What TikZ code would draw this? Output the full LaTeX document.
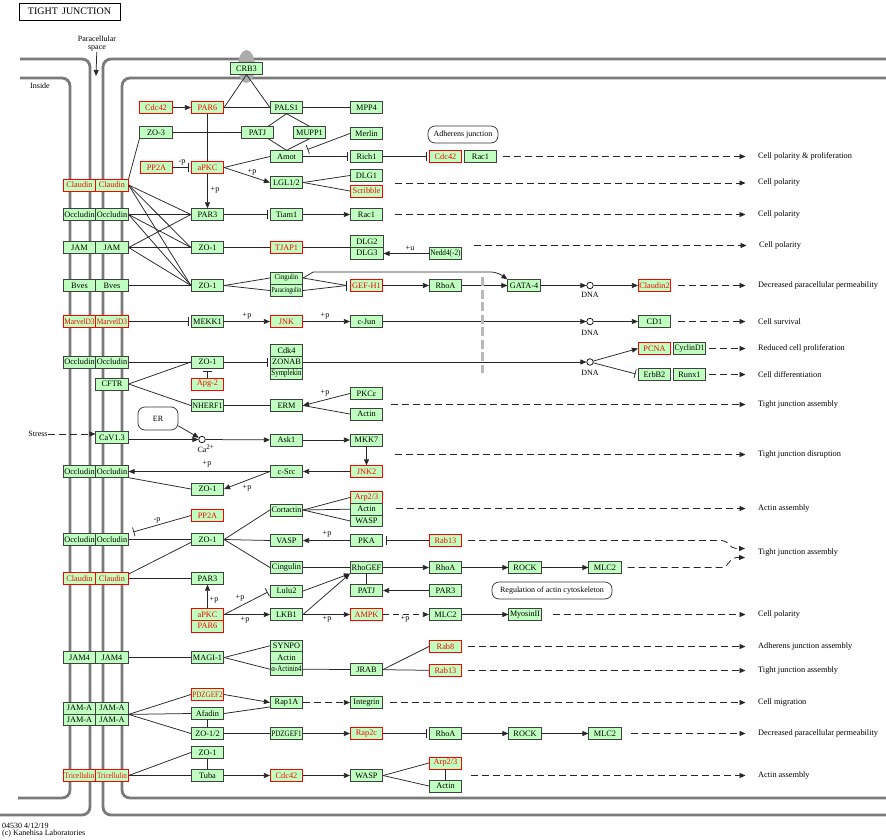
\documentclass[tikz,border=0pt]{standalone}
\usepackage{fontspec}
\setmainfont{Liberation Serif}
\usepackage{graphicx}
\usetikzlibrary{arrows.meta}
\definecolor{kg}{HTML}{BFFFBF}
\definecolor{memgray}{HTML}{7A7A7A}
\newcommand{\sq}[2]{\scalebox{#1}[1]{#2}}
\begin{document}
\begin{tikzpicture}[x=1pt,y=-1pt,
  every node/.style={font=\fontsize{8}{8.5}\selectfont},
  gb/.style={draw=black!75, fill=kg, minimum width=32.5pt, minimum height=11.7pt, inner sep=0pt, line width=0.7pt, font=\fontsize{8.3}{8.5}\selectfont},
  rb/.style={gb, draw=red, text=red},
  ln/.style={draw=black!85, line width=0.75pt},
  ar/.style={ln, -{Triangle[length=6pt,width=5pt]}},
  inh/.style={ln, -{Bar[width=9pt]}, shorten >=2.5pt},
  da/.style={ln, dash pattern=on 7pt off 4pt, -{Triangle[length=6pt,width=5pt]}},
  dao/.style={da, shorten >=12.5pt},
  outc/.style={anchor=west, inner sep=0pt, font=\fontsize{8.3}{9}\selectfont},
  lab/.style={inner sep=0pt},
  memb/.style={draw=memgray, line width=2.8pt, rounded corners=8pt},
  dna/.style={circle, draw=black, fill=white, minimum size=6.5pt, inner sep=0pt, line width=0.7pt},
  rbox/.style={draw=black!80, rounded corners=7pt, minimum height=17pt, inner sep=2pt, line width=0.7pt}
]
\useasboundingbox (0,0) rectangle (886,840);
\fill[white] (0,0) rectangle (886,840);

% membranes
\draw[memb] (20,59) -- (90,59) -- (90,815) -- (0,815);
\draw[memb] (20,78) -- (70,78) -- (70,798) -- (18,798);
\draw[memb] (886,59) -- (103,59) -- (103,815) -- (886,815);
\draw[memb] (886,78) -- (122,78) -- (122,798) -- (886,798);
\fill[gray!65] (246.5,66.5) ellipse [x radius=8.5pt, y radius=16.5pt];

% title and texts
\node[draw=black, line width=0.8pt, minimum width=101pt, minimum height=17pt, inner sep=0pt, font=\fontsize{10}{10}\selectfont] (title) at (69.5,11.5) {TIGHT\, JUNCTION};
\node[lab, align=center, font=\fontsize{8}{8}\selectfont] (para) at (97,44) {Paracellular\\space};
\coordinate (paraend) at (96,76);
\draw[ar] (para) -- (paraend);
\node[lab] (inside) at (40,86) {Inside};
\node[lab, anchor=west] (foot1) at (2,825.5) {04530 4/12/19};
\node[lab, anchor=west] (foot2) at (2,833.5) {(c) Kanehisa Laboratories};

% ---------- nodes ----------
\node[gb] (crb3) at (246.5,68.5) {CRB3};
\node[rb] (cdc42a) at (156,107.5) {Cdc42};
\node[rb] (par6a) at (207.5,107.5) {PAR6};
\node[gb] (pals1) at (286.5,107.5) {PALS1};
\node[gb] (mpp4) at (366.5,107.5) {MPP4};
\node[gb] (zo3) at (156,132.5) {ZO-3};
\node[gb] (patj) at (257.5,132.5) {PATJ};
\node[gb] (mupp1) at (309.5,132.5) {MUPP1};
\node[gb] (merlin) at (366.5,133.5) {Merlin};
\node[rbox, minimum width=70pt] (adh) at (463,134.5) {Adherens junction};
\node[gb] (amot) at (286.5,156.5) {Amot};
\node[gb] (rich1) at (366.5,156.5) {Rich1};
\node[rb] (cdc42b) at (445.5,156.5) {Cdc42};
\node[gb] (rac1a) at (480.5,156.5) {Rac1};
\node[rb] (pp2a) at (156.5,167.5) {PP2A};
\node[rb] (apkc) at (207.5,167.5) {aPKC};
\node[gb] (lgl) at (286.5,182.5) {LGL1/2};
\node[gb] (dlg1) at (366.5,175.5) {DLG1};
\node[rb] (scrib) at (366.5,191) {Scribble};
\node[rb] (cl1) at (79.5,185) {Claudin};
\node[rb] (cl2) at (112,185) {Claudin};
\node[gb] (oc1) at (79.5,214.5) {Occludin};
\node[gb] (oc2) at (112,214.5) {Occludin};
\node[gb] (par3a) at (207.5,214.5) {PAR3};
\node[gb] (tiam1) at (286.5,214.5) {Tiam1};
\node[gb] (rac1b) at (366.5,214.5) {Rac1};
\node[gb] (jam1) at (79.5,247.5) {JAM};
\node[gb] (jam2) at (112,247.5) {JAM};
\node[gb] (zo1a) at (207.5,247.5) {ZO-1};
\node[rb] (tjap1) at (286.5,247.5) {TJAP1};
\node[gb] (dlg2) at (367,241.3) {DLG2};
\node[gb] (dlg3) at (367,253) {DLG3};
\node[gb] (nedd4) at (445.5,253.5) {\sq{0.87}{Nedd4(-2)}};
\node[gb] (bv1) at (79.5,285.5) {Bves};
\node[gb] (bv2) at (112,285.5) {Bves};
\node[gb] (zo1b) at (207.5,285.5) {ZO-1};
\node[gb] (cing) at (286.5,278) {\sq{0.9}{\fontsize{7.5}{8}\selectfont Cingulin}};
\node[gb] (parac) at (286.5,290.5) {\sq{0.78}{\fontsize{7.5}{8}\selectfont Paracingulin}};
\node[rb] (gefh1) at (366.5,285.5) {GEF-H1};
\node[gb] (rhoa1) at (445.5,285.5) {RhoA};
\node[gb] (gata4) at (524,285.5) {GATA-4};
\node[dna] (dna1) at (590,285.5) {};
\node[lab] (dnal1) at (590,295) {DNA};
\node[rb] (claudin2) at (654.5,285.5) {Claudin2};
\node[rb] (mv1) at (79.5,321.5) {\sq{0.89}{MarvelD3}};
\node[rb] (mv2) at (112,321.5) {\sq{0.89}{MarvelD3}};
\node[gb] (mekk1) at (207.5,321.5) {MEKK1};
\node[rb] (jnk) at (286.5,321.5) {JNK};
\node[gb] (cjun) at (366.5,321.5) {c-Jun};
\node[dna] (dna2) at (590,321.5) {};
\node[lab] (dnal2) at (590,332.5) {DNA};
\node[gb] (cd1) at (654.5,321.5) {CD1};
\node[gb] (oc3) at (79.5,362) {Occludin};
\node[gb] (oc4) at (112,362) {Occludin};
\node[gb] (zo1c) at (207.5,362) {ZO-1};
\node[gb] (cdk4) at (286.5,350.3) {Cdk4};
\node[gb] (zonab) at (286.5,362) {ZONAB};
\node[gb] (symp) at (286.5,373.7) {\sq{0.84}{Symplekin}};
\node[dna] (dna3) at (590,362) {};
\node[lab] (dnal3) at (590,372.5) {DNA};
\node[rb] (pcna) at (654.5,348.5) {PCNA};
\node[gb] (cycd1) at (689.5,348.5) {\sq{0.93}{CyclinD1}};
\node[gb] (erbb2) at (654.5,374.5) {ErbB2};
\node[gb] (runx1) at (689.5,374.5) {Runx1};
\node[rb] (apg2) at (207.5,384) {Apg-2};
\node[gb] (cftr) at (112,384) {CFTR};
\node[gb] (nherf1) at (207.5,405.5) {\sq{0.96}{NHERF1}};
\node[gb] (erm) at (286.5,405.5) {ERM};
\node[gb] (pkce) at (366.5,393.5) {PKCε};
\node[gb] (actina) at (366.5,414) {Actin};
\node[rbox, minimum width=40pt, minimum height=23pt] (er) at (158,418.5) {ER};
\node[lab] (stress) at (38,434) {Stress};
\node[gb] (cav) at (112,437.5) {CaV1.3};
\node[dna] (ca) at (202,439.5) {};
\node[lab] (cal) at (206,449) {Ca\textsuperscript{\fontsize{7}{7}\selectfont 2+}};
\node[gb] (ask1) at (286.5,440) {Ask1};
\node[gb] (mkk7) at (366.5,440) {MKK7};
\node[gb] (oc5) at (79.5,471.5) {Occludin};
\node[gb] (oc6) at (112,471.5) {Occludin};
\node[gb] (csrc) at (286.5,471.5) {c-Src};
\node[rb] (jnk2) at (366.5,471.5) {JNK2};
\node[gb] (zo1d) at (207.5,489) {ZO-1};
\node[rb] (pp2b) at (207.5,515.5) {PP2A};
\node[gb] (oc7) at (79.5,539.5) {Occludin};
\node[gb] (oc8) at (112,539.5) {Occludin};
\node[gb] (zo1e) at (207.5,539.5) {ZO-1};
\node[gb] (cort) at (286.5,510) {\sq{0.97}{Cortactin}};
\node[gb] (vasp) at (286.5,540.5) {VASP};
\node[gb] (cing2) at (286.5,567.5) {Cingulin};
\node[rb] (arp23a) at (366.5,497.5) {Arp2/3};
\node[gb] (actinb) at (366.5,509.2) {Actin};
\node[gb] (wasp1) at (366.5,520.9) {WASP};
\node[gb] (pka) at (366.5,540.5) {PKA};
\node[rb] (rab13a) at (445.5,540.5) {Rab13};
\node[gb] (rhogef) at (366.5,567.5) {RhoGEF};
\node[gb] (rhoa2) at (445.5,567.5) {RhoA};
\node[gb] (rock1) at (525,567.5) {ROCK};
\node[gb] (mlc2a) at (605,567.5) {MLC2};
\node[rb] (cl3) at (79.5,578.5) {Claudin};
\node[rb] (cl4) at (112,578.5) {Claudin};
\node[gb] (par3b) at (207.5,578.5) {PAR3};
\node[gb] (patj2) at (366.5,590.5) {PATJ};
\node[gb] (par3c) at (445.5,590.5) {PAR3};
\node[rbox, minimum width=120pt] (regul) at (552,590.5) {Regulation of actin cytoskeleton};
\node[gb] (lulu2) at (286.5,591) {Lulu2};
\node[rb] (apkc2) at (207.5,614.5) {aPKC};
\node[rb] (par6b) at (207.5,626.2) {PAR6};
\node[gb] (lkb1) at (286.5,614.5) {LKB1};
\node[rb] (ampk) at (366.5,614.5) {AMPK};
\node[gb] (mlc2b) at (445.5,614.5) {MLC2};
\node[gb] (myo) at (525,614.5) {\sq{0.97}{MyosinII}};
\node[gb] (jam4a) at (79.5,657.5) {JAM4};
\node[gb] (jam4b) at (112,657.5) {JAM4};
\node[gb] (magi1) at (207.5,657.5) {MAGI-1};
\node[gb] (synpo) at (286.5,645.8) {SYNPO};
\node[gb] (actinc) at (286.5,657.5) {Actin};
\node[gb] (actinin) at (286.5,669.2) {\sq{0.83}{α-Actinin4}};
\node[gb] (jrab) at (366.5,669.5) {JRAB};
\node[rb] (rab8) at (445.5,646.5) {Rab8};
\node[rb] (rab13b) at (445.5,670.5) {Rab13};
\node[gb] (jama1) at (79.5,708.2) {JAM-A};
\node[gb] (jama2) at (112,708.2) {JAM-A};
\node[gb] (jama3) at (79.5,719.9) {JAM-A};
\node[gb] (jama4) at (112,719.9) {JAM-A};
\node[rb] (pdzgef2) at (207.5,694.5) {\sq{0.85}{PDZGEF2}};
\node[gb] (afadin) at (207.5,713.5) {Afadin};
\node[gb] (zo12) at (207.5,733.5) {ZO-1/2};
\node[gb] (rap1a) at (286.5,702.5) {Rap1A};
\node[gb] (integrin) at (366.5,702.5) {Integrin};
\node[gb] (pdzgef1) at (286.5,733.5) {\sq{0.85}{PDZGEF1}};
\node[rb] (rap2c) at (366.5,733.5) {Rap2c};
\node[gb] (rhoa3) at (445.5,733.5) {RhoA};
\node[gb] (rock2) at (525,733.5) {ROCK};
\node[gb] (mlc2c) at (605,733.5) {MLC2};
\node[gb] (zo1f) at (207.5,752.5) {ZO-1};
\node[gb] (tuba) at (207.5,775.5) {Tuba};
\node[rb] (tri1) at (79.5,775.5) {\sq{0.86}{Tricellulin}};
\node[rb] (tri2) at (112,775.5) {\sq{0.86}{Tricellulin}};
\node[rb] (cdc42c) at (286.5,775.5) {Cdc42};
\node[gb] (wasp2) at (366.5,775.5) {WASP};
\node[rb] (arp23b) at (445.5,763) {Arp2/3};
\node[gb] (actind) at (445.5,786) {Actin};

% outcomes
\node[outc] (o1) at (758,156.5) {Cell polarity \& proliferation};
\node[outc] (o2) at (758,183) {Cell polarity};
\node[outc] (o3) at (758,214.5) {Cell polarity};
\node[outc] (o4) at (759,245.5) {Cell polarity};
\node[outc] (o5) at (758,285.5) {Decreased paracellular permeability};
\node[outc] (o6) at (758,321.5) {Cell survival};
\node[outc] (o7) at (758,348.5) {Reduced cell proliferation};
\node[outc] (o8) at (758,374.5) {Cell differentiation};
\node[outc] (o9) at (758,404.5) {Tight junction assembly};
\node[outc] (o10) at (758,454.5) {Tight junction disruption};
\node[outc] (o11) at (758,508.5) {Actin assembly};
\node[outc] (o12) at (758,553) {Tight junction assembly};
\node[outc] (o13) at (758,614.5) {Cell polarity};
\node[outc] (o14) at (758,647) {Adherens junction assembly};
\node[outc] (o15) at (758,670.5) {Tight junction assembly};
\node[outc] (o16) at (758,702.5) {Cell migration};
\node[outc] (o17) at (758,733.5) {Decreased paracellular permeability};
\node[outc] (o18) at (758,775.5) {Actin assembly};

% ---------- connectors ----------
% top complex
\draw[ln] (crb3.south) -- (par6a.east);
\draw[ln] (crb3.south) -- (pals1.west);
\draw[ln] (par6a.east) -- (pals1.west);
\draw[ar] (cdc42a) -- (par6a);
\draw[ln] (pals1) -- (mpp4);
\draw[ln] (pals1.south) -- (patj.30);
\draw[ln] (pals1.south) -- (mupp1.north);
\draw[ln] (patj.-30) -- (amot.north);
\draw[ln] (mupp1.south) -- (amot.north);
\draw[ln] (zo3) -- (patj);
\draw[ln] (par6a) -- (apkc);
\draw[inh] (pp2a) -- (apkc);
\node[lab] (lmp1) at (182,162.5) {-p};
\draw[ln] (apkc.east) -- (amot.west);
\draw[ar] (apkc.east) -- (lgl.west);
\node[lab] (lp1) at (252,172) {+p};
\draw[inh] (amot) -- (rich1);
\coordinate (mbar) at (307.5,149.5);
\draw[ln, -{Bar[width=9pt]}] (merlin.west) -- (mbar);
\draw[inh] (rich1) -- (cdc42b);
\draw[ln] (lgl.east) -- (dlg1.west);
\draw[ln] (lgl.east) -- (scrib.west);
\draw[ar] (apkc) -- (par3a);
\node[lab] (lp2) at (215,190) {+p};
\draw[inh] (par3a) -- (tiam1);
\draw[ar] (tiam1) -- (rac1b);
\draw[ln] (zo1a) -- (tjap1);
\draw[ln] (tjap1.east) -- (tjap1.east -| dlg2.west);
\draw[ar] (nedd4.west) -- (nedd4.west -| dlg3.east);
\node[lab] (lu1) at (410,248) {+u};

% claudin/occludin/JAM/Bves fan
\draw[ln] (cl2.north east) -- (zo3.south west);
\foreach \s in {cl2,oc2,jam2} {
  \draw[ln] (\s.east) -- (par3a.west);
  \draw[ln] (\s.east) -- (zo1a.west);
  \draw[ln] (\s.east) -- (zo1b.west);
}
\draw[ln] (bv2) -- (zo1b);

% GEF-H1 row
\draw[ln] (zo1b.east) -- (cing.west);
\draw[ln] (zo1b.east) -- (parac.west);
\coordinate (gbar) at (346.5,285.5);
\draw[ln] (cing.east) -- (gbar);
\draw[ln] (parac.east) -- (gbar);
\draw[ln] ([yshift=5pt]gbar) -- ([yshift=-5pt]gbar);
\draw[ar] (cing.east) -- ++(10,-6) -- (490,272) to[out=0,in=145] (gata4.north west);
\draw[ar] (gefh1) -- (rhoa1);
\draw[ar] (rhoa1) -- (gata4);
\draw[ar] (gata4) -- (dna1);
\draw[ar] (dna1) -- (claudin2);

% MarvelD3 row
\draw[inh] (mv2) -- (mekk1);
\draw[ar] (mekk1) -- (jnk);
\node[lab] (lp3) at (247,316) {+p};
\draw[ar] (jnk) -- (cjun);
\node[lab] (lp4) at (325,316.5) {+p};
\draw[ar] (cjun) -- (dna2);
\draw[ar] (dna2) -- (cd1);

% Occludin/ZONAB row
\draw[ln] (oc4) -- (zo1c);
\draw[inh] (zo1c) -- (zonab);
\draw[ar] (zonab) -- (dna3);
\draw[inh] (apg2) -- (zo1c);
\draw[ln] (cftr.east) -- (zo1c.west);
\draw[ln] (cftr.east) -- (nherf1.west);
\draw[ar] (dna3) -- (pcna.west);
\draw[inh] (dna3) -- (erbb2.west);
\draw[ln] (nherf1) -- (erm);
\draw[ar] (pkce.west) -- (erm.east);
\node[lab] (lp5) at (325,393) {+p};
\draw[ln] (actina.west) -- (erm.east);

% Ca row
\draw[da] (stress.east) -- (stress.east -| cav.west);
\draw[ar] (cav.east |- ca) -- (ca);
\draw[ar] (er.-20) -- (ca);
\draw[ar] (ca) -- (ask1);
\draw[ar] (ask1) -- (mkk7);
\draw[ar] (mkk7) -- (jnk2);
\draw[ar] (jnk2) -- (csrc);
\draw[ar] (csrc) -- (oc6);
\node[lab] (lp6) at (207,464.5) {+p};
\draw[ar] (csrc.west) -- (zo1d.east);
\node[lab] (lp7) at (247,488) {+p};
\draw[ln] (oc6.south east) -- (zo1d.west);

% ZO-1 / actin rows
\draw[inh, shorten >=5pt] (pp2b.west) -- (oc8.north east);
\node[lab] (lmp2) at (157,520) {-p};
\draw[ln] (oc8) -- (zo1e);
\draw[ln] (cl4.15) -- (zo1e.-170);
\draw[ln] (cl4) -- (par3b);
\draw[ln] (zo1e.east) -- (cort.west);
\draw[ln] (zo1e.east) -- (vasp.west);
\draw[ln] (zo1e.east) -- (cing2.west);
\draw[ln] (cort.east) -- (arp23a.west);
\draw[ln] (cort.east) -- (actinb.west);
\draw[ln] (cort.east) -- (wasp1.west);
\draw[ar] (pka) -- (vasp);
\node[lab] (lp8) at (327,534) {+p};
\draw[inh] (rab13a) -- (pka);
\draw[ln] (cing2) -- (rhogef);
\draw[ar] (lulu2.east) -- (rhogef.south west);
\draw[ar] (lkb1.east) -- (rhogef.south west);
\draw[ln] (rhogef) -- (patj2);
\draw[ar] (par3c) -- (patj2);
\draw[ar] (rhogef) -- (rhoa2);
\draw[ar] (rhoa2) -- (rock1);
\draw[ar] (rock1) -- (mlc2a);
\draw[ar] (apkc2) -- (par3b);
\node[lab] (lp9) at (214,600) {+p};
\draw[inh] (apkc2.east) -- (lulu2.west);
\node[lab] (lp10) at (240,598) {+p};
\draw[ar] (apkc2.east) -- (lkb1.west);
\node[lab] (lp11) at (245,620.5) {+p};
\draw[ar] (lkb1) -- (ampk);
\node[lab] (lp12) at (327,619.5) {+p};
\draw[da, dash pattern=on 6pt off 4pt] (ampk) -- (mlc2b);
\node[lab] (lp13) at (405,619.5) {+p};
\draw[ar] (mlc2b) -- (myo);

% bottom rows
\draw[ln] (jam4b) -- (magi1);
\draw[ln] (magi1.east) -- (synpo.west);
\draw[ln] (magi1.east) -- (actinin.west);
\draw[ln] (actinin.east) -- (jrab.west);
\draw[ln] (jrab.east) -- (rab8.west);
\draw[ln] (jrab) -- (rab13b);
\draw[ln] (jama2.south east) -- (pdzgef2.west);
\draw[ln] (jama2.south east) -- (afadin.west);
\draw[ln] (jama2.south east) -- (zo12.west);
\draw[ar] (pdzgef2.east) -- (rap1a.west);
\draw[ln] (afadin.east) -- (rap1a.-165);
\draw[ln] (afadin) -- (zo12);
\draw[da] (rap1a) -- (integrin);
\draw[ln] (zo12) -- (pdzgef1);
\draw[ar] (pdzgef1) -- (rap2c);
\draw[inh] (rap2c) -- (rhoa3);
\draw[ar] (rhoa3) -- (rock2);
\draw[ar] (rock2) -- (mlc2c);
\draw[ln] (tri2.east) -- (zo1f.west);
\draw[ln] (tri2) -- (tuba);
\draw[ln] (zo1f) -- (tuba);
\draw[ar] (tuba) -- (cdc42c);
\draw[ar] (cdc42c) -- (wasp2);
\draw[ln] (wasp2.east) -- (arp23b.west);
\draw[ln] (wasp2.east) -- (actind.west);
\draw[ln] (arp23b) -- (actind);

% outcome dashed arrows
\coordinate (s2) at (395,183);
\coordinate (s4) at (474,245.5);
\coordinate (s9) at (391,404.5);
\coordinate (s10) at (395,454.5);
\coordinate (s11) at (396,508.5);
\coordinate (s18) at (471,775.5);
\draw[dao, shorten <=6pt] (rac1a.east) -- (o1.west);
\draw[dao] (s2) -- (o2.west);
\draw[dao, shorten <=12pt] (rac1b.east) -- (o3.west);
\draw[dao] (s4) -- (s4 -| o4.west);
\draw[dao, shorten <=7pt] (claudin2.east) -- (o5.west);
\draw[dao, shorten <=7pt] (cd1.east) -- (o6.west);
\draw[dao, shorten <=3pt] (cycd1.east) -- (o7.west);
\draw[dao, shorten <=3pt] (runx1.east) -- (o8.west);
\draw[dao] (s9) -- (o9.west);
\draw[dao] (s10) -- (o10.west);
\draw[dao] (s11) -- (o11.west);
\draw[dao, shorten <=11pt] (myo.east) -- (o13.west);
\draw[dao, shorten <=6pt] (rab8.east) -- (rab8.east -| o14.west);
\draw[dao, shorten <=6pt] (rab13b.east) -- (o15.west);
\draw[dao, shorten <=7pt] (integrin.east) -- (o16.west);
\draw[dao, shorten <=9pt] (mlc2c.east) -- (o17.west);
\draw[dao] (s18) -- (o18.west);
\coordinate (t12a) at (745,548.5);
\coordinate (t12b) at (745,557.5);
\draw[da, shorten <=6pt] (rab13a.east) -- (722,540.5) to[out=0,in=180] (736,548.5) -- (t12a);
\draw[da, shorten <=6pt] (mlc2a.east) -- (722,567.5) to[out=0,in=180] (736,557.5) -- (t12b);

% gray dashed separator
\draw[draw=gray!55, line width=3pt, dash pattern=on 9pt off 3.5pt] (482,277) -- (482,373);
\end{tikzpicture}
\end{document}
